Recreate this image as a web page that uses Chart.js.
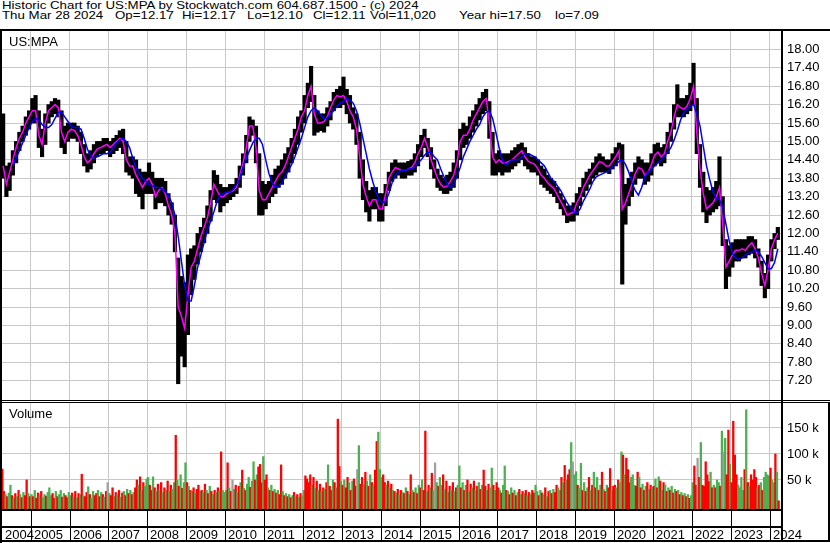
<!DOCTYPE html>
<html>
<head>
<meta charset="utf-8">
<script src="https://cdn.jsdelivr.net/npm/chart.js@4.4.1/dist/chart.umd.min.js"></script>
<style>
  body { margin: 0; background: #fff; width: 830px; height: 543px; overflow: hidden; position: relative;
         font-family: "Liberation Sans", Arial, sans-serif; color: #000; }
  .ln { position: absolute; background: #000; }
  .t { position: absolute; white-space: pre; line-height: 1; font-size: 13px; }
  .hd { position: absolute; white-space: pre; line-height: 1; font-size: 13.3px; transform: scaleY(0.84); transform-origin: 0 0; }
  canvas { position: absolute; }
</style>
</head>
<body>
<div class="hd" style="left:2px;top:-0.5px">Historic Chart for US:MPA by Stockwatch.com 604.687.1500 - (c) 2024</div>
<div class="hd" style="left:2px;top:9.5px">Thu Mar 28 2024</div>
<div class="hd" style="left:115px;top:9.5px">Op=12.17</div>
<div class="hd" style="left:182px;top:9.5px">Hi=12.17</div>
<div class="hd" style="left:247px;top:9.5px">Lo=12.10</div>
<div class="hd" style="left:313px;top:9.5px">Cl=12.11</div>
<div class="hd" style="left:370px;top:9.5px">Vol=11,020</div>
<div class="hd" style="left:459px;top:9.5px">Year hi=17.50</div>
<div class="hd" style="left:555px;top:9.5px">lo=7.09</div>

<canvas id="price" width="828" height="369" style="left:2px;top:31px"></canvas>
<canvas id="volume" width="828" height="106" style="left:2px;top:403px"></canvas>

<div class="t" style="left:9px;top:35px">US:MPA</div>
<div class="t" style="left:9px;top:407px">Volume</div>

<div class="ln" style="left:0;top:29px;width:830px;height:2px"></div>
<div class="ln" style="left:0;top:29px;width:2px;height:514px"></div>
<div class="ln" style="left:781px;top:29px;width:2px;height:513px"></div>
<div class="ln" style="left:0;top:400px;width:830px;height:1px"></div>
<div class="ln" style="left:0;top:402px;width:830px;height:1px"></div>
<div class="ln" style="left:0;top:509px;width:783px;height:2px"></div>
<div class="ln" style="left:0;top:526px;width:783px;height:2px"></div>
<div class="ln" style="left:0;top:540px;width:830px;height:2px"></div>
<div class="ln" style="left:828px;top:402px;width:2px;height:140px"></div>
<div id="yearRow"></div>

<script>
// year labels along the bottom, price and volume tick values
const years = ['2004', '2005', '2006', '2007', '2008', '2009', '2010', '2011', '2012', '2013', '2014',
  '2015', '2016', '2017', '2018', '2019', '2020', '2021', '2022', '2023', '2024'];
const priceTicks = [7.2, 7.8, 8.4, 9.0, 9.6, 10.2, 10.8, 11.4, 12.0, 12.6, 13.2, 13.8,
  14.4, 15.0, 15.6, 16.2, 16.8, 17.4, 18.0];
const volumeTicks = [50, 100, 150];

// monthly price range, Apr 2004 .. Mar 2024 (one row per year)
const high = [
  15.9, 14.2, 14.3, 14.7, 15.0, 15.3, 15.5, 15.8, 16.0,
  16.4, 16.5, 16.0, 15.4, 15.9, 16.2, 16.3, 16.4, 16.35, 16.0, 15.5, 15.6,
  15.6, 15.6, 15.5, 15.3, 14.9, 14.6, 14.7, 14.9, 15.0, 15.0, 15.1, 15.1,
  15.0, 15.1, 15.2, 15.35, 15.4, 15.0, 14.5, 14.5, 14.4, 14.1, 14.0, 14.0,
  14.3, 14.0, 13.8, 13.8, 13.8, 13.7, 13.3, 13.0, 12.6, 11.2, 10.6, 10.4,
  11.3, 11.5, 11.6, 12.0, 12.2, 12.5, 12.9, 13.4, 14.05, 13.9, 13.6, 13.5,
  13.5, 13.6, 13.6, 13.8, 14.2, 14.6, 15.2, 15.8, 15.7, 15.5, 14.6, 13.7,
  13.6, 13.7, 13.9, 14.1, 14.2, 14.4, 14.6, 14.8, 15.1, 15.4, 15.8, 16.0,
  16.5, 16.9, 17.45, 16.5, 16.0, 15.9, 15.9, 16.1, 16.3, 16.6, 16.7, 16.8,
  17.1, 16.7, 16.5, 16.1, 15.9, 15.3, 14.4, 13.7, 13.4, 13.5, 13.5, 13.3,
  13.3, 13.6, 14.0, 14.3, 14.4, 14.3, 14.3, 14.3, 14.35, 14.4, 14.6, 14.9,
  15.2, 15.4, 15.1, 14.8, 14.4, 14.1, 13.9, 13.8, 13.9, 14.0, 14.3, 14.7,
  15.4, 15.6, 15.5, 15.8, 16.0, 16.2, 16.4, 16.6, 16.7, 16.3, 15.3, 14.6,
  14.7, 14.6, 14.6, 14.6, 14.7, 14.8, 14.9, 14.95, 14.8, 14.6, 14.5, 14.5,
  14.4, 14.2, 14.1, 13.9, 13.8, 13.7, 13.5, 13.3, 13.1, 12.9, 12.9, 13.0,
  13.3, 13.5, 13.8, 14.0, 14.1, 14.3, 14.5, 14.6, 14.5, 14.4, 14.4, 14.6,
  14.8, 14.95, 14.9, 13.6, 13.8, 14.0, 14.3, 14.5, 14.4, 14.3, 14.3, 14.6,
  14.9, 14.95, 14.8, 14.9, 15.3, 15.6, 16.2, 16.85, 16.4, 16.4, 16.5, 16.9,
  17.55, 16.4, 14.9, 14.0, 13.5, 13.4, 13.5, 13.7, 14.5, 13.2, 11.8, 11.6,
  11.7, 11.8, 11.8, 11.8, 11.8, 11.9, 11.9, 11.8, 11.5, 11.1, 10.7, 11.3,
  11.8, 12.0, 12.2
];
const low = [
  13.8, 13.2, 13.4, 13.9, 14.3, 14.7, 15.0, 15.2, 15.4,
  15.6, 15.6, 14.8, 14.5, 14.9, 15.6, 15.8, 15.9, 15.8, 14.8, 14.6, 15.0,
  15.1, 15.1, 15.0, 14.6, 14.2, 14.0, 14.1, 14.3, 14.5, 14.6, 14.6, 14.7,
  14.5, 14.6, 14.7, 14.8, 14.6, 14.0, 13.9, 13.8, 13.3, 13.2, 12.8, 13.3,
  13.3, 13.3, 12.8, 13.0, 13.0, 12.9, 12.6, 12.3, 11.4, 7.1, 8.0, 7.65,
  8.7, 10.0, 10.5, 11.0, 11.4, 11.7, 12.0, 12.4, 13.1, 13.0, 12.7, 12.9,
  13.0, 13.1, 13.2, 13.3, 13.5, 13.9, 14.3, 15.0, 15.2, 14.3, 12.6, 12.6,
  12.8, 13.0, 13.2, 13.3, 13.5, 13.6, 13.8, 14.0, 14.3, 14.6, 14.9, 15.3,
  15.6, 16.1, 16.3, 15.2, 15.3, 15.35, 15.3, 15.5, 15.7, 16.0, 16.1, 16.1,
  16.2, 15.9, 15.6, 15.4, 14.9, 13.8, 13.1, 12.7, 12.4, 12.8, 12.8, 12.4,
  12.4, 12.9, 13.4, 13.7, 13.8, 13.9, 13.8, 13.8, 13.9, 13.9, 14.0, 14.2,
  14.5, 14.8, 14.5, 14.1, 13.8, 13.5, 13.4, 13.3, 13.3, 13.4, 13.5, 13.8,
  14.4, 14.8, 14.9, 15.1, 15.3, 15.5, 15.7, 15.9, 16.0, 15.1, 13.9, 13.9,
  14.0, 13.9, 14.0, 14.0, 14.1, 14.2, 14.3, 14.4, 14.2, 14.1, 14.0, 14.0,
  13.9, 13.6, 13.5, 13.4, 13.3, 13.2, 13.0, 12.8, 12.6, 12.35, 12.4, 12.4,
  12.6, 12.9, 13.2, 13.4, 13.6, 13.8, 13.9, 14.0, 14.0, 14.0, 13.95, 14.1,
  14.2, 14.4, 10.35, 12.3, 12.9, 13.2, 13.6, 13.8, 13.8, 13.6, 13.7, 13.9,
  14.2, 14.3, 14.2, 14.3, 14.6, 15.0, 15.4, 15.8, 15.8, 15.8, 15.9, 16.0,
  16.2, 14.6, 13.5, 12.7, 12.35, 12.6, 12.7, 12.8, 12.9, 11.6, 10.2, 10.6,
  10.9, 11.1, 11.1, 11.2, 11.2, 11.3, 11.35, 11.2, 10.9, 10.3, 9.9, 10.2,
  11.1, 11.5, 11.8
];
// short average (magenta) and long average (blue)
const shortAvg = [
  14.2, 13.6, 14.0, 14.4, 14.8, 15.1, 15.3, 15.6, 15.8,
  16.0, 16.0, 15.2, 14.9, 15.6, 16.0, 16.1, 16.2, 16.1, 15.3, 15.0, 15.3,
  15.4, 15.35, 15.2, 14.9, 14.5, 14.3, 14.4, 14.6, 14.75, 14.8, 14.85, 14.9,
  14.8, 14.9, 15.0, 15.1, 15.0, 14.4, 14.2, 14.2, 13.9, 13.7, 13.5, 13.7,
  13.8, 13.6, 13.2, 13.4, 13.5, 13.3, 12.9, 12.6, 12.0, 9.6, 9.3, 8.9,
  10.0, 10.9, 11.1, 11.5, 11.9, 12.2, 12.5, 13.0, 13.6, 13.4, 13.2, 13.2,
  13.3, 13.35, 13.4, 13.5, 13.9, 14.3, 14.8, 15.5, 15.5, 14.8, 13.4, 13.1,
  13.1, 13.3, 13.5, 13.7, 13.9, 14.0, 14.2, 14.5, 14.8, 15.1, 15.4, 15.8,
  16.0, 16.5, 16.8, 15.9, 15.6, 15.6, 15.65, 15.8, 16.1, 16.35, 16.5, 16.45,
  16.5, 16.3, 16.0, 15.8, 15.4, 14.5, 13.6, 13.2, 12.9, 13.1, 13.1, 12.8,
  12.8, 13.3, 13.8, 14.0, 14.15, 14.1, 14.05, 14.05, 14.1, 14.15, 14.3, 14.6,
  14.8, 15.1, 14.8, 14.4, 14.1, 13.8, 13.6, 13.5, 13.55, 13.7, 13.9, 14.3,
  15.0, 15.2, 15.2, 15.4, 15.7, 15.9, 16.1, 16.3, 16.4, 15.6, 14.5, 14.3,
  14.4, 14.3, 14.3, 14.35, 14.4, 14.5, 14.6, 14.7, 14.5, 14.35, 14.3, 14.25,
  14.1, 13.9, 13.8, 13.65, 13.55, 13.45, 13.25, 13.05, 12.85, 12.6, 12.65, 12.7,
  13.0, 13.2, 13.5, 13.7, 13.9, 14.05, 14.2, 14.35, 14.3, 14.2, 14.2, 14.35,
  14.5, 14.7, 12.8, 13.0, 13.3, 13.6, 13.95, 14.15, 14.1, 13.9, 14.0, 14.25,
  14.55, 14.65, 14.5, 14.6, 15.0, 15.3, 15.8, 16.2, 16.1, 16.05, 16.15, 16.4,
  16.8, 15.3, 14.1, 13.3, 12.8, 12.9, 13.0, 13.2, 13.5, 12.3, 10.9, 11.1,
  11.3, 11.45, 11.45, 11.5, 11.45, 11.6, 11.7, 11.5, 11.2, 10.7, 10.3, 10.8,
  11.5, 11.8, 12.0
];
const longAvg = [
  null, null, null, 14.2, 14.45, 14.7, 14.95, 15.2, 15.45,
  15.65, 15.75, 15.7, 15.55, 15.45, 15.45, 15.55, 15.75, 15.95, 15.95, 15.8, 15.65,
  15.5, 15.45, 15.45, 15.4, 15.1, 14.75, 14.5, 14.45, 14.5, 14.55, 14.6, 14.6,
  14.65, 14.8, 14.95, 15.05, 15.1, 15.0, 14.8, 14.45, 14.15, 13.95, 13.8, 13.7,
  13.6, 13.55, 13.5, 13.5, 13.45, 13.35, 13.25, 13.0, 12.6, 11.9, 11.1, 10.3,
  9.8, 9.8, 10.3, 10.9, 11.3, 11.7, 12.1, 12.4, 12.7, 13.05, 13.25, 13.3,
  13.35, 13.35, 13.45, 13.6, 13.8, 14.15, 14.45, 14.7, 14.95, 15.1, 15.1, 14.9,
  14.4, 13.95, 13.65, 13.5, 13.55, 13.65, 13.85, 14.05, 14.25, 14.5, 14.8, 15.1,
  15.45, 15.8, 16.0, 16.1, 16.0, 15.85, 15.75, 15.75, 15.9, 16.0, 16.15, 16.25,
  16.3, 16.4, 16.35, 16.25, 16.0, 15.6, 15.1, 14.6, 14.1, 13.7, 13.35, 13.1,
  13.0, 13.05, 13.3, 13.65, 13.9, 14.0, 14.05, 14.05, 14.1, 14.1, 14.15, 14.3,
  14.4, 14.55, 14.65, 14.65, 14.5, 14.4, 14.1, 13.85, 13.6, 13.5, 13.6, 13.85,
  14.15, 14.5, 14.75, 15.0, 15.2, 15.4, 15.55, 15.8, 15.95, 16.0, 15.75, 15.3,
  14.8, 14.4, 14.25, 14.3, 14.4, 14.4, 14.4, 14.5, 14.6, 14.6, 14.55, 14.5,
  14.4, 14.3, 14.2, 14.0, 13.8, 13.7, 13.55, 13.4, 13.2, 13.0, 12.85, 12.7,
  12.65, 12.8, 13.05, 13.25, 13.45, 13.7, 13.85, 13.9, 13.95, 14.0, 14.05, 14.15,
  14.25, 14.35, 14.4, 14.25, 14.0, 13.65, 13.4, 13.25, 13.5, 13.85, 14.0, 14.1,
  14.2, 14.3, 14.4, 14.5, 14.65, 14.8, 15.05, 15.35, 15.7, 15.95, 16.05, 16.15,
  16.2, 15.9, 15.5, 14.85, 14.2, 13.75, 13.35, 13.15, 13.1, 12.85, 12.3, 11.75,
  11.35, 11.2, 11.15, 11.2, 11.3, 11.35, 11.4, 11.45, 11.4, 11.25, 11.05, 10.85,
  10.85, 11.05, 11.5
];

// half-monthly volume in thousands, Apr 2004 .. Mar 2024
const volume = [
  71, 28, 22, 18, 25, 40, 20, 15, 24, 18, 30, 22, 16, 26, 20, 50, 24, 18,
  22, 18, 30, 15, 25, 20, 28, 16, 22, 19, 26, 35, 20, 24, 15, 28, 18, 22, 30, 17, 24, 20, 16, 26,
  20, 25, 18, 28, 16, 24, 22, 61, 20, 18, 26, 37, 22, 15, 28, 20, 24, 30, 18, 26, 22, 17, 28, 45,
  24, 20, 35, 18, 26, 22, 30, 17, 25, 28, 20, 32, 24, 30, 22, 26, 35, 50, 40, 56, 30, 45, 38, 52,
  55, 40, 30, 56, 35, 28, 42, 30, 45, 26, 35, 30, 48, 28, 40, 32, 45, 136, 50, 38, 60, 34, 45, 83,
  45, 38, 30, 28, 35, 25, 32, 40, 28, 30, 26, 42, 30, 24, 38, 28, 22, 30, 26, 35, 28, 104, 30, 26,
  30, 83, 35, 28, 50, 32, 40, 26, 38, 45, 69, 34, 30, 42, 55, 36, 48, 85, 50, 60, 75, 80, 45, 95,
  50, 60, 35, 30, 40, 28, 32, 25, 30, 22, 79, 28, 20, 24, 18, 22, 16, 20, 26, 18, 22, 17, 24, 20,
  30, 58, 52, 45, 60, 40, 55, 35, 48, 30, 42, 28, 35, 32, 45, 79, 38, 30, 50, 45, 35, 167, 76, 48,
  40, 50, 35, 55, 45, 30, 48, 52, 38, 70, 116, 42, 55, 40, 65, 48, 38, 60, 45, 40, 69, 124, 142, 70,
  55, 60, 45, 40, 48, 35, 42, 30, 28, 25, 32, 22, 30, 26, 24, 35, 28, 22, 60, 30, 26, 35, 24, 40,
  35, 50, 30, 144, 28, 40, 35, 63, 30, 83, 45, 38, 55, 40, 60, 32, 48, 26, 38, 30, 45, 28, 35, 40,
  77, 35, 45, 30, 40, 50, 28, 42, 35, 48, 30, 38, 45, 32, 40, 69, 38, 30, 42, 35, 73, 40, 30, 45,
  35, 30, 25, 40, 77, 30, 28, 22, 35, 25, 30, 20, 26, 32, 22, 28, 24, 30, 20, 26, 22, 30, 25, 40,
  28, 20, 30, 25, 22, 35, 18, 28, 30, 24, 32, 26, 40, 35, 30, 55, 45, 78, 50, 60, 70, 122, 85, 60,
  66, 40, 35, 82, 30, 45, 28, 35, 55, 30, 40, 65, 35, 55, 30, 40, 65, 32, 28, 40, 35, 72, 30, 38,
  40, 35, 50, 45, 104, 98, 60, 92, 70, 45, 55, 60, 40, 38, 65, 55, 35, 42, 30, 38, 45, 32, 40, 36,
  38, 52, 35, 56, 48, 30, 45, 40, 28, 35, 30, 38, 25, 32, 28, 30, 22, 26, 20, 24, 18, 22, 15, 20,
  45, 77, 40, 92, 55, 122, 40, 38, 85, 60, 47, 65, 35, 40, 35, 50, 45, 38, 144, 104, 130, 60, 146, 80,
  45, 163, 98, 60, 40, 35, 55, 30, 70, 185, 45, 38, 60, 50, 70, 55, 35, 40, 45, 30, 55, 65, 60, 58,
  73, 50, 45, 100, 65, 10
];
// r = down, g = up, x = unchanged
const volumeDir = [
  'rrgrggrgrgrgrgrrgr',
  'grgrrgrggrgggrrgrggrgrrg', 'grgrgrgrgrrgrggrrgrgrgrx', 'grrgrgrgrgrgrgrgrrgrgrgg',
  'grrgrgrgrgrgrgrggrgrgrgg', 'rgrgrgrrgrgrgrgrgrgrgrgg', 'grgrxgrgrgrgrggrggrgrrrg',
  'rrgrgrgrgrrgrgrgrgrgrgrg', 'grrrrgrgrgrgrgrgrrgrgrrg', 'rgrrgrgrrxgrrgrgrgrgrrgg',
  'grrgrgrgrgrgrgrgrgrgrgrg', 'rgrrgrgrgxgrggrgrgrgrgrg', 'grgrgrgrgrgrgrgrrgrggrgr',
  'rgrggrgrgrgrgrgrgrgrgrrg', 'grgrgrgrgrgrrggrgrgrrgxg', 'grggrgrgrgrgrgrgrgrgrrgr',
  'rgrggrgrrrgggrrgrgrgrgrg', 'rgrgrgrgrgrgrgrgrgrgrgrg', 'grrxrgrrrrrgrgrggrgxgrrg',
  'rrrrggggrgrgrrrrgrgrgggg', 'rggrgr'
].join('');

const X_MIN = 2004.262, X_MAX = 2024.29;
const monthX = i => 2004 + (3.5 + i) / 12;
const halfX = j => 2004 + (3 + (j + 0.5) / 2) / 12;
const gridColor = '#c8c8c8';
const dirColor = { r: '#ff0000', g: '#4caf50', x: '#a0a0a0' };

Chart.defaults.font.family = '"Liberation Sans", Arial, sans-serif';
Chart.defaults.font.size = 13;
Chart.defaults.color = '#000';

function timeAxis() {
  return {
    type: 'linear', min: X_MIN, max: X_MAX, offset: false,
    afterBuildTicks: s => { s.ticks = years.slice(1).map(y => ({ value: +y })); },
    ticks: { display: false },
    grid: { color: gridColor, drawTicks: false, offset: false },
    border: { display: false },
    afterFit: s => { s.height = 0; s.paddingLeft = 0; s.paddingRight = 0; }
  };
}

function valueAxis(min, max, ticks, fmt) {
  return {
    position: 'right', min: min, max: max,
    afterBuildTicks: s => { s.ticks = ticks.map(v => ({ value: v })); },
    ticks: { padding: 6, callback: fmt },
    grid: { color: gridColor, drawTicks: false },
    border: { display: false },
    afterFit: s => { s.width = 49; s.paddingTop = 0; s.paddingBottom = 0; }
  };
}

const common = {
  responsive: false,
  animation: false,
  layout: { padding: 0 },
  plugins: { legend: { display: false }, tooltip: { enabled: false } }
};

const priceChart = new Chart(document.getElementById('price'), {
  type: 'bar',
  data: {
    datasets: [
      {
        type: 'line', order: 0,
        data: longAvg.map((v, i) => ({ x: monthX(i), y: v })),
        borderColor: '#0000ff', borderWidth: 1.5, pointRadius: 0
      },
      {
        type: 'line', order: 1,
        data: shortAvg.map((v, i) => ({ x: monthX(i), y: v })),
        borderColor: '#ff00ff', borderWidth: 1.5, pointRadius: 0
      },
      {
        type: 'bar', order: 2,
        data: high.map((h, i) => ({ x: monthX(i), y: [low[i], h] })),
        backgroundColor: '#000', barThickness: 3.5
      }
    ]
  },
  options: {
    ...common,
    scales: {
      x: timeAxis(),
      y: valueAxis(6.57, 18.6, priceTicks, v => v.toFixed(2))
    }
  }
});

new Chart(document.getElementById('volume'), {
  type: 'bar',
  data: {
    datasets: [{
      data: volume.map((v, j) => ({ x: halfX(j), y: v })),
      backgroundColor: volume.map((v, j) => dirColor[volumeDir[j]] || dirColor.g),
      base: -5.8, barPercentage: 1, categoryPercentage: 1
    }]
  },
  options: {
    ...common,
    scales: {
      x: timeAxis(),
      y: valueAxis(-5.8, 198, volumeTicks, v => v + ' k')
    }
  }
});

// year boxes under the volume panel
const row = document.getElementById('yearRow');
const xs = priceChart.scales.x;
years.forEach((y, k) => {
  const px = k === 0 ? 2 : Math.round(2 + xs.getPixelForValue(+y));
  if (k > 0) {
    const sep = document.createElement('div');
    sep.className = 'ln';
    sep.style.cssText = `left:${px}px;top:511px;width:1px;height:29px`;
    row.appendChild(sep);
  }
  const lab = document.createElement('div');
  lab.className = 't';
  lab.textContent = y;
  lab.style.cssText = `left:${px + 3}px;top:528px`;
  row.appendChild(lab);
});
</script>
</body>
</html>
